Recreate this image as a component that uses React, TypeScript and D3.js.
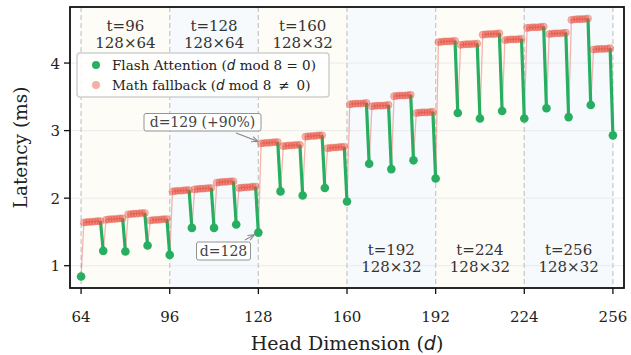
import React from "react";
import * as d3 from "d3";

// ---- data ----
const xTicks = [64, 96, 128, 160, 192, 224, 256];
const yTicks = [1, 2, 3, 4];
const bandStarts = [64, 96, 128, 160, 192, 224];
const bandTitles = ["t=96", "t=128", "t=160", "t=192", "t=224", "t=256"];
const bandTiles = ["128×64", "128×64", "128×32", "128×32", "128×32", "128×32"];
const bandOnTop = [true, true, true, false, false, false];

// Flash attention latency at d = 64, 72, ..., 256
const flashDims = [64, 72, 80, 88, 96, 104, 112, 120, 128, 136, 144, 152, 160, 168, 176, 184, 192, 200, 208, 216, 224, 232, 240, 248, 256];
const flashLatency = [0.84, 1.22, 1.21, 1.3, 1.16, 1.56, 1.56, 1.61, 1.49, 2.1, 2.04, 2.15, 1.95, 2.51, 2.43, 2.56, 2.29, 3.26, 3.18, 3.29, 3.18, 3.33, 3.2, 3.38, 2.93];

// Math fallback latency for d = 8k+1 .. 8k+7 (one row per group)
const mathLatency = [
  [1.64, 1.645, 1.65, 1.65, 1.655, 1.66, 1.66],
  [1.68, 1.685, 1.69, 1.69, 1.695, 1.7, 1.7],
  [1.76, 1.765, 1.77, 1.77, 1.775, 1.78, 1.78],
  [1.67, 1.675, 1.68, 1.68, 1.685, 1.69, 1.69],
  [2.1, 2.105, 2.11, 2.11, 2.115, 2.12, 2.12],
  [2.13, 2.135, 2.14, 2.14, 2.145, 2.15, 2.15],
  [2.23, 2.235, 2.24, 2.24, 2.245, 2.25, 2.25],
  [2.15, 2.155, 2.16, 2.16, 2.165, 2.17, 2.17],
  [2.81, 2.815, 2.82, 2.82, 2.825, 2.83, 2.83],
  [2.77, 2.775, 2.78, 2.78, 2.785, 2.79, 2.79],
  [2.91, 2.915, 2.92, 2.92, 2.925, 2.93, 2.93],
  [2.74, 2.745, 2.75, 2.75, 2.755, 2.76, 2.76],
  [3.39, 3.395, 3.4, 3.4, 3.4, 3.405, 3.41],
  [3.36, 3.365, 3.37, 3.37, 3.37, 3.375, 3.38],
  [3.51, 3.515, 3.52, 3.52, 3.52, 3.525, 3.53],
  [3.26, 3.265, 3.27, 3.27, 3.27, 3.275, 3.28],
  [4.31, 4.315, 4.32, 4.32, 4.32, 4.325, 4.33],
  [4.27, 4.275, 4.28, 4.28, 4.28, 4.285, 4.29],
  [4.42, 4.425, 4.43, 4.43, 4.43, 4.435, 4.44],
  [4.34, 4.345, 4.35, 4.35, 4.35, 4.355, 4.36],
  [4.52, 4.525, 4.53, 4.53, 4.53, 4.535, 4.54],
  [4.43, 4.435, 4.44, 4.44, 4.44, 4.445, 4.45],
  [4.64, 4.645, 4.65, 4.65, 4.65, 4.655, 4.66],
  [4.2, 4.205, 4.21, 4.21, 4.21, 4.215, 4.22],
];

const GREEN = "#27ae60";
const RED = "#e74c3c";
const SERIF = "'DejaVu Serif', serif";
const SANS_IT = "'DejaVu Sans', sans-serif";

type Pt = { d: number; v: number; flash: boolean };

export default function App() {
  const W = 631, H = 355;
  const L = 70, R = 624, T = 7, B = 288;
  const x = d3.scaleLinear().domain([60, 260]).range([L, R]);
  const y = d3.scaleLinear().domain([0.67, 4.83]).range([B, T]);

  const pts: Pt[] = [];
  flashDims.forEach((fd, i) => {
    pts.push({ d: fd, v: flashLatency[i], flash: true });
    if (i < mathLatency.length) {
      mathLatency[i].forEach((v, j) => pts.push({ d: fd + 1 + j, v, flash: false }));
    }
  });
  pts.sort((a, b) => a.d - b.d);

  const line = d3.line<Pt>().x((p) => x(p.d)).y((p) => y(p.v));
  const greenSegs: [Pt, Pt][] = [];
  for (let i = 1; i < pts.length; i++) if (pts[i].flash) greenSegs.push([pts[i - 1], pts[i]]);

  const p129 = pts.find((p) => p.d === 129)!;
  const p128 = pts.find((p) => p.d === 128)!;

  const arrow = (x1: number, y1: number, x2: number, y2: number) => {
    const a = Math.atan2(y2 - y1, x2 - x1);
    const hl = 7, ha = 0.4;
    const h1 = [x2 - hl * Math.cos(a - ha), y2 - hl * Math.sin(a - ha)];
    const h2 = [x2 - hl * Math.cos(a + ha), y2 - hl * Math.sin(a + ha)];
    return (
      <g stroke="#888" strokeWidth={1.1} fill="none">
        <line x1={x1} y1={y1} x2={x2} y2={y2} />
        <polyline points={`${h1[0]},${h1[1]} ${x2},${y2} ${h2[0]},${h2[1]}`} />
      </g>
    );
  };

  return (
    <svg width={W} height={H} style={{ position: "absolute", left: 0, top: 0, background: "#fff" }}>
      <defs>
        <clipPath id="plot">
          <rect x={L} y={T} width={R - L} height={B - T} />
        </clipPath>
      </defs>
      {/* bands */}
      {bandStarts.map((s, i) => (
        <rect key={s} x={x(s)} y={T} width={x(s + 32) - x(s)} height={B - T}
          fill={i % 2 === 0 ? "#fefcf7" : "#f6fafd"} />
      ))}
      {/* grid */}
      {yTicks.map((t) => (
        <line key={t} x1={L} x2={R} y1={y(t)} y2={y(t)} stroke="#e8e8e8" strokeWidth={0.9} />
      ))}
      {xTicks.map((t) => (
        <line key={t} x1={x(t)} x2={x(t)} y1={T} y2={B} stroke="#cacaca" strokeWidth={1.3} strokeDasharray="5,3" />
      ))}
      {/* band labels */}
      {bandStarts.map((s, i) => {
        const cx = x(s + 16);
        const y1 = bandOnTop[i] ? 31 : 255;
        return (
          <text key={s} x={cx} y={y1} textAnchor="middle" fontFamily={SERIF} fontSize={15} fill="#333">
            <tspan x={cx}>{bandTitles[i]}</tspan>
            <tspan x={cx} dy={17}>{bandTiles[i]}</tspan>
          </text>
        );
      })}
      <g clipPath="url(#plot)">
        <path d={line(pts)!} fill="none" stroke={RED} strokeOpacity={0.4} strokeWidth={1.3} />
        {greenSegs.map(([a, b]) => (
          <line key={b.d} x1={x(a.d)} y1={y(a.v)} x2={x(b.d)} y2={y(b.v)} stroke={GREEN} strokeWidth={3.2} />
        ))}
        {pts.filter((p) => !p.flash).map((p) => (
          <circle key={p.d} cx={x(p.d)} cy={y(p.v)} r={3.6} fill={RED} fillOpacity={0.4} stroke={RED} strokeOpacity={0.35} strokeWidth={0.8} />
        ))}
        {pts.filter((p) => p.flash).map((p) => (
          <circle key={p.d} cx={x(p.d)} cy={y(p.v)} r={4.3} fill={GREEN} />
        ))}
      </g>
      {/* annotations */}
      {arrow(236, 133, x(p129.d) - 3, y(p129.v) - 2)}
      <rect x={144} y={113.5} width={117} height={17.5} rx={2} fill="#fff" fillOpacity={0.85} stroke="#888" strokeWidth={0.9} />
      <text x={202.5} y={127} textAnchor="middle" fontFamily={SERIF} fontSize={14} fill="#444">d=129 (+90%)</text>
      {arrow(245, 240, x(p128.d) - 4, y(p128.v) + 2)}
      <rect x={196.5} y={242} width={54} height={18} rx={2} fill="#fff" fillOpacity={0.85} stroke="#888" strokeWidth={0.9} />
      <text x={223.5} y={256} textAnchor="middle" fontFamily={SERIF} fontSize={14} fill="#444">d=128</text>
      {/* legend */}
      <rect x={77} y={53} width={252} height={44} rx={3} fill="#fff" fillOpacity={0.85} stroke="#cfcfcf" strokeWidth={1.5} />
      <circle cx={96} cy={65} r={4} fill={GREEN} />
      <circle cx={96} cy={85} r={4} fill={RED} fillOpacity={0.45} />
      <text x={112} y={70} fontFamily={SERIF} fontSize={13.5} fill="#222">
        Flash Attention (<tspan fontFamily={SANS_IT} fontStyle="italic">d</tspan> mod 8 = 0)
      </text>
      <text x={112} y={90} fontFamily={SERIF} fontSize={13.5} fill="#222">
        Math fallback (<tspan fontFamily={SANS_IT} fontStyle="italic">d</tspan> mod 8 {"\u2009"}≠ {"\u2009"}0)
      </text>
      {/* frame */}
      <rect x={L} y={T} width={R - L} height={B - T} fill="none" stroke="#111" strokeWidth={1.8} />
      {/* x axis */}
      {xTicks.map((t) => (
        <g key={t}>
          <line x1={x(t)} x2={x(t)} y1={B} y2={B + 6} stroke="#111" strokeWidth={1.3} />
          <text x={x(t)} y={322} textAnchor="middle" fontFamily={SERIF} fontSize={15} fill="#222">{t}</text>
        </g>
      ))}
      {yTicks.map((t) => (
        <g key={t}>
          <line x1={L - 6} x2={L} y1={y(t)} y2={y(t)} stroke="#111" strokeWidth={1.3} />
          <text x={L - 10} y={y(t) + 5.5} textAnchor="end" fontFamily={SERIF} fontSize={15} fill="#222">{t}</text>
        </g>
      ))}
      <text x={(L + R) / 2} y={350} textAnchor="middle" fontFamily={SERIF} fontSize={19} fill="#222">
        Head Dimension (<tspan fontFamily={SANS_IT} fontStyle="italic">d</tspan>)
      </text>
      <text transform={`translate(27,${(T + B) / 2}) rotate(-90)`} textAnchor="middle" fontFamily={SERIF} fontSize={18.5} fill="#222">
        Latency (ms)
      </text>
    </svg>
  );
}
